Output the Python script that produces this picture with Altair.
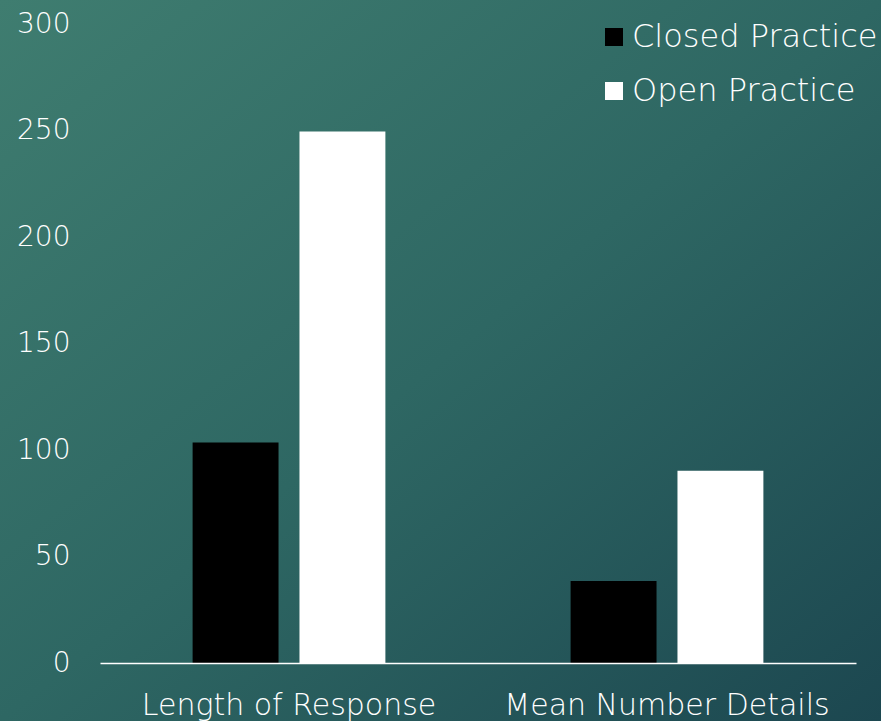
import altair as alt
import pandas as pd

# Grouped bar data
categories = ["Length of Response", "Mean Number Details"]
groups = ["Closed Practice", "Open Practice"]
closed_values = [103.5, 38.5]
open_values = [249.5, 90.2]
y_ticks = [0, 50, 100, 150, 200, 250, 300]

rows = []
for i, cat in enumerate(categories):
    rows.append({"category": cat, "group": groups[0], "value": closed_values[i]})
    rows.append({"category": cat, "group": groups[1], "value": open_values[i]})
df = pd.DataFrame(rows)

FONT = "DejaVu Sans"
WEIGHT = 200
W, H = 756, 639
PAD = {"left": 100, "top": 24, "right": 25, "bottom": 58}

# Full-canvas gradient backdrop drawn behind the plot area
backdrop = alt.Chart(pd.DataFrame({"k": [0]})).mark_rect(
    clip=False,
    color=alt.LinearGradient(
        gradient="linear",
        x1=0, y1=0, x2=1, y2=1,
        stops=[
            alt.GradientStop(color="#3f7d70", offset=0),
            alt.GradientStop(color="#2e6763", offset=0.5),
            alt.GradientStop(color="#1c4750", offset=1),
        ],
    ),
).encode(
    x=alt.value(-PAD["left"]), x2=alt.value(W + PAD["right"]),
    y=alt.value(-PAD["top"]), y2=alt.value(H + PAD["bottom"]),
)

bars = alt.Chart(df).mark_bar().encode(
    x=alt.X(
        "category:N",
        sort=categories,
        scale=alt.Scale(paddingInner=0.49, paddingOuter=0.245),
        axis=alt.Axis(
            title=None, labelAngle=0, ticks=False, zindex=1,
            domain=True, domainColor="#ffffff", domainWidth=1.5,
            labelColor="#ffffff", labelFont=FONT, labelFontSize=30,
            labelFontWeight=WEIGHT,
            labelPadding=27, labelBaseline="top", labelLimit=0,
        ),
    ),
    xOffset=alt.XOffset(
        "group:N", sort=groups,
        scale=alt.Scale(paddingInner=0.196, paddingOuter=0),
    ),
    y=alt.Y(
        "value:Q",
        scale=alt.Scale(domain=[0, 300], nice=False),
        axis=alt.Axis(
            title=None, values=y_ticks, grid=False, ticks=False, zindex=1,
            domain=False, labelColor="#ffffff", labelFont=FONT,
            labelFontSize=28, labelFontWeight=WEIGHT, labelPadding=30,
        ),
    ),
    color=alt.Color(
        "group:N", sort=groups,
        scale=alt.Scale(domain=groups, range=["#000000", "#ffffff"]),
        legend=alt.Legend(
            title=None, orient="none", legendX=498, legendY=-3,
            symbolType="square", symbolSize=324, symbolStrokeWidth=0,
            labelColor="#ffffff", labelFont=FONT, labelFontSize=32,
            labelFontWeight=WEIGHT,
            labelOffset=2, rowPadding=22, symbolOpacity=1, labelLimit=0,
            padding=0, zindex=1,
        ),
    ),
)

chart = alt.layer(backdrop, bars).properties(
    width=W, height=H, padding=PAD,
    autosize=alt.AutoSizeParams(type="none"),
).configure(
    background="#1c4750",
).configure_view(
    strokeWidth=0,
)

chart.save("out.html", embed_options={"renderer": "svg", "actions": False})
